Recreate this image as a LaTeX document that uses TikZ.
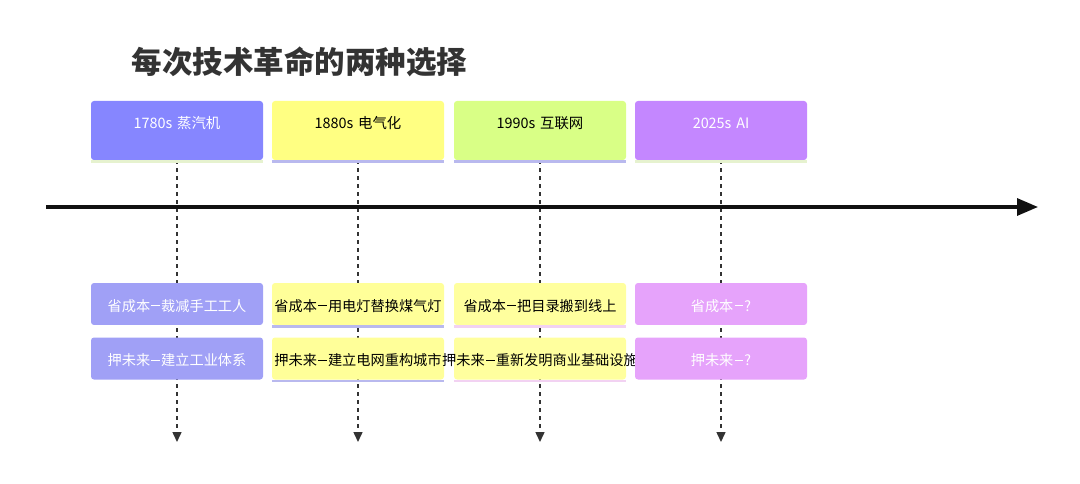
\documentclass[tikz,border=0pt]{standalone}
\usepackage{fontspec}
\setmainfont{Noto Sans CJK SC}
\usetikzlibrary{positioning,arrows.meta,calc}
\definecolor{tlInk}{HTML}{333333}
\definecolor{tlAxis}{HTML}{111111}
\definecolor{eraA}{HTML}{8686FF}
\definecolor{evA}{HTML}{A0A0F6}
\definecolor{eraB}{HTML}{FFFF82}
\definecolor{evB}{HTML}{FFFF99}
\definecolor{eraC}{HTML}{D9FF86}
\definecolor{evC}{HTML}{FFFF9E}
\definecolor{eraD}{HTML}{C487FF}
\definecolor{evD}{HTML}{E6A3FB}
\definecolor{stripA}{HTML}{E6F2CF}
\definecolor{stripB}{HTML}{B9B9EE}
\definecolor{stripC}{HTML}{F2D2F2}
\tikzset{
  era/.style={
    fill=#1, rounded corners=3pt, minimum width=172pt, minimum height=59pt,
    text width=166pt, align=center, inner sep=3pt,
    text height=10pt, text depth=14pt,
    font=\fontsize{14.4}{16}\selectfont},
  ev/.style={
    fill=#1, rounded corners=3pt, minimum width=172pt, minimum height=42pt,
    text width=170pt, align=center, inner sep=1pt,
    text height=16pt, text depth=2pt,
    font=\fontsize{14.2}{17}\selectfont},
  strip/.style={draw=#1, line width=2.5pt},
  drop/.style={draw=tlInk, line width=1.5pt, dash pattern=on 4pt off 4pt,
    -{Triangle[length=10pt,width=9pt]}},
  axis/.style={draw=tlAxis, line width=3.2pt, -{Triangle[length=21pt,width=17pt]}},
  headline/.style={font=\fontsize{30.5}{34}\selectfont\bfseries, text=tlInk},
}
\newcommand{\dsh}{\kern1.2pt\rule[4.6pt]{8.6pt}{1pt}\kern1.2pt}
\newcommand{\evtext}[2]{\makebox[\linewidth][c]{#1\dsh#2}}

\begin{document}
\begin{tikzpicture}[x=1pt,y=-1pt]
\useasboundingbox (0,0) rectangle (1080,484);

\node[headline, anchor=west] (title) at (128,62) {每次技术革命的两种选择};

\coordinate (axL) at (46,207);
\coordinate (axR) at (1038,207);

\foreach \x/\yr/\hc/\ec/\tc/\hs/\es/\sa/\sb [count=\i] in {%
  177/1780s 蒸汽机/eraA/evA/white/stripA/white/裁减手工工人/建立工业体系,
  358/1880s 电气化/eraB/evB/black/stripB/stripB/用电灯替换煤气灯/建立电网重构城市,
  540/1990s 互联网/eraC/evC/black/stripB/stripC/把目录搬到线上/重新发明商业基础设施,
  721/2025s AI/eraD/evD/white/stripA/white/?/?%
} {
  \coordinate (end\i) at (\x,442);
  \node[era=\hc, text=\tc] (era\i) at (\x,130.5) {\yr};
  \draw[drop] (era\i.south) -- (end\i);
  \draw[strip=\hs] ([yshift=-1.5pt]era\i.south west) -- ([yshift=-1.5pt]era\i.south east);
  \node[ev=\ec, text=\tc] (save\i) at (\x,304) {\evtext{省成本}{\sa}};
  \node[ev=\ec, text=\tc] (bet\i) at (\x,358.5) {\evtext{押未来}{\sb}};
  \draw[strip=\es] ([yshift=-1.5pt]save\i.south west) -- ([yshift=-1.5pt]save\i.south east);
  \draw[strip=\es] ([yshift=-1.5pt]bet\i.south west) -- ([yshift=-1.5pt]bet\i.south east);
}

\draw[axis] (axL) -- (axR);

\end{tikzpicture}
\end{document}
